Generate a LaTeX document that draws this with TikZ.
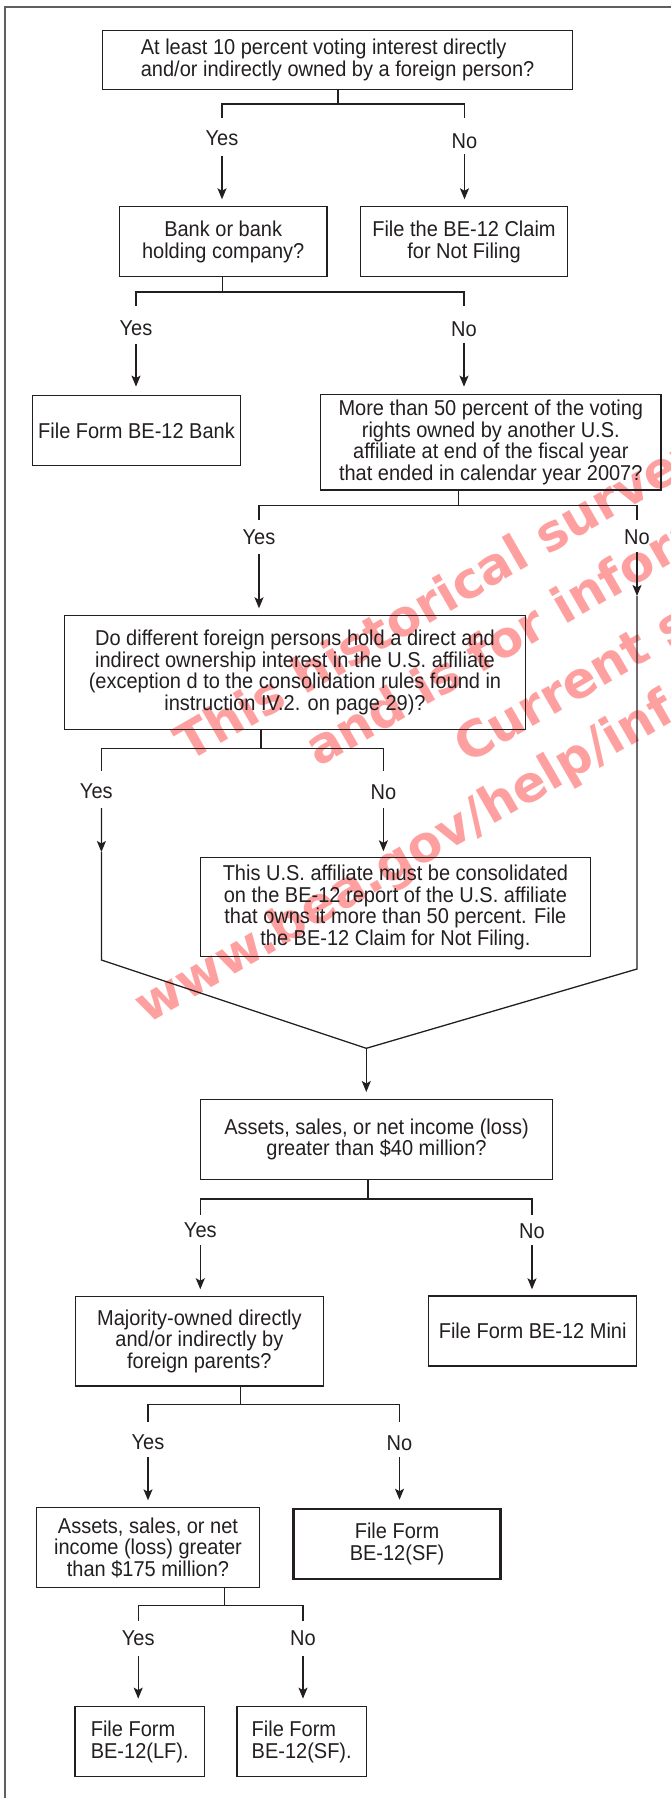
\documentclass[tikz,border=0pt]{standalone}
\usepackage{fontspec}
\setmainfont{Liberation Sans}[FakeStretch=0.93]
\newfontfamily\wmfont{DejaVu Sans}
\usetikzlibrary{arrows.meta,calc}
\definecolor{ink}{RGB}{35,31,32}
\definecolor{wmred}{RGB}{255,160,160}
\definecolor{framegray}{RGB}{95,95,95}
\begin{document}
\begin{tikzpicture}[x=1pt,y=-1pt,
  box/.style={draw=ink, line width=1.4pt, inner sep=0pt, align=center, text=ink,
    font=\fontsize{21.5}{21.5}\selectfont},
  thickbox/.style={box, line width=2.6pt},
  lbl/.style 2 args={anchor=base, inner sep=0pt, text height=#1, text depth=#2, text=ink,
    font=\fontsize{21.5}{21.5}\selectfont},
  conn/.style={draw=ink, line width=1.3pt},
  arr/.style={conn, -{Stealth[length=11pt,width=9pt,inset=2.5pt]}, shorten >=6.7pt},
  arrfree/.style={conn, -{Stealth[length=11pt,width=9pt,inset=2.5pt]}},
  wmtext/.style={anchor=base west, rotate=30, inner sep=0pt, text=wmred,
    font=\wmfont\bfseries\fontsize{50}{50}\selectfont}]
\useasboundingbox (0,0) rectangle (671,1798);
% watermark
\begin{scope}
\clip (0,0) rectangle (671,1798);
\node[wmtext] (wm1) at (188,763) {This historical survey};
\node[wmtext] (wm2) at (318,768) {and is for information};
\node[wmtext] (wm3) at (467,765) {Current survey};
\node[wmtext] (wm4) at (147,1025) {www.bea.gov/help/information};
\end{scope}
% frame
\draw[framegray, line width=2pt] (4.8,1798) -- (4.8,6.7) -- (671,6.7);
% boxes
\node[box, align=left, minimum width=470, minimum height=58.6] (q1) at (337.6,60)
  {At least 10 percent voting interest directly\\and/or indirectly owned by a foreign person?};
\node[box, minimum width=207.6, minimum height=70] (bank) at (223.2,241.7)
  {Bank or bank\\holding company?};
\node[box, minimum width=207.5, minimum height=70] (claim) at (464,241.7)
  {File the BE-12 Claim\\for Not Filing};
\node[box, minimum width=208, minimum height=70] (bebank) at (136.5,430.7)
  {File Form BE-12 Bank};
\node[box, minimum width=340.5, minimum height=95.7] (q3) at (490.8,442.2)
  {More than 50 percent of the voting\\rights owned by another U.S.\\affiliate at end of the fiscal year\\that ended in calendar year 2007?};
\node[box, minimum width=461, minimum height=113.6] (q4) at (295,672.5)
  {Do different foreign persons hold a direct and\\indirect ownership interest in the U.S. affiliate\\(exception d to the consolidation rules found in\\instruction IV.2. on page 29)?};
\node[box, minimum width=390, minimum height=99] (consol) at (395.4,907.2)
  {This U.S. affiliate must be consolidated\\on the BE-12 report of the U.S. affiliate\\that owns it more than 50 percent. File\\the BE-12 Claim for Not Filing.};
\node[box, minimum width=352.5, minimum height=80] (q5) at (376.5,1139.3)
  {Assets, sales, or net income (loss)\\greater than \$40 million?};
\node[box, minimum width=248, minimum height=89.3] (q6) at (199.4,1341.3)
  {Majority-owned directly\\and/or indirectly by\\foreign parents?};
\node[box, minimum width=208, minimum height=70] (mini) at (532.7,1331)
  {File Form BE-12 Mini};
\node[box, minimum width=223.3, minimum height=80] (q7) at (148,1547.7)
  {Assets, sales, or net\\income (loss) greater\\than \$175 million?};
\node[thickbox, minimum width=207, minimum height=70] (sf1) at (397,1544)
  {File Form\\BE-12(SF)};
\node[box, align=left, minimum width=129.6, minimum height=70] (lf) at (139.7,1741.7)
  {File Form\\BE-12(LF).};
\node[box, align=left, minimum width=129.3, minimum height=70] (sf2) at (301.7,1741.7)
  {File Form\\BE-12(SF).};
% labels
\node[lbl={27.7pt}{10.3pt}] (y1) at (222,145.7) {Yes};
\node[lbl={30.7pt}{5.3pt}] (n1) at (464.5,148.7) {No};
\node[lbl={29.5pt}{7.8pt}] (y2) at (136,335.5) {Yes};
\node[lbl={30pt}{7pt}] (n2) at (464,336) {No};
\node[lbl={24.4pt}{9.6pt}] (y3) at (259,544.4) {Yes};
\node[lbl={24.7pt}{7pt}] (n3) at (637,544.7) {No};
\node[lbl={28pt}{9.3pt}] (y4) at (96.3,798.7) {Yes};
\node[lbl={29pt}{8.3pt}] (n4) at (383.4,799.7) {No};
\node[lbl={22.2pt}{7.8pt}] (y5) at (200.3,1237.2) {Yes};
\node[lbl={23.7pt}{6.3pt}] (n5) at (532,1238.7) {No};
\node[lbl={27.7pt}{7.3pt}] (y6) at (148,1449.4) {Yes};
\node[lbl={28.7pt}{6.3pt}] (n6) at (399.5,1450.4) {No};
\node[lbl={24.8pt}{10.2pt}] (y7) at (138.2,1645.5) {Yes};
\node[lbl={25.2pt}{9.8pt}] (n7) at (303,1645.9) {No};
% junction points
\coordinate (j1) at (338,104);
\coordinate (j2) at (222.5,292);
\coordinate (j3) at (458.7,505.7);
\coordinate (j4) at (261,748.7);
\coordinate (j5) at (368,1199);
\coordinate (j6) at (240.5,1404.3);
\coordinate (j7) at (224.6,1605.3);
\coordinate (tipr) at (637,596);
\coordinate (bendr) at (637,969);
\coordinate (tipl) at (101.4,852);
\coordinate (bendl) at (101.4,960);
\coordinate (merge) at (366.3,1048.3);
% branch 1
\draw[conn] (j1 |- q1.south) -- (j1);
\draw[conn] (y1.north) |- (j1) -| (n1.north);
\draw[arr] (y1.south) -- (y1.south |- bank.north);
\draw[arr] (n1.south) -- (n1.south |- claim.north);
% branch 2
\draw[conn] (j2 |- bank.south) -- (j2);
\draw[conn] (y2.north) |- (j2) -| (n2.north);
\draw[arr, shorten >=8.4pt] (y2.south) -- (y2.south |- bebank.north);
\draw[arr, shorten >=7pt] (n2.south) -- (n2.south |- q3.north);
% branch 3
\draw[conn] (j3 |- q3.south) -- (j3);
\draw[conn] (y3.north) |- (j3) -| (n3.north);
\draw[arr] (y3.south) -- (y3.south |- q4.north);
\draw[arrfree] (n3.south) -- (tipr);
\draw[conn] (tipr) -- (bendr) -- (merge);
% branch 4
\draw[conn] (j4 |- q4.south) -- (j4);
\draw[conn] ([xshift=5.1pt]y4.north) |- (j4) -| (n4.north);
\draw[arrfree] ([xshift=5.1pt]y4.south) -- (tipl);
\draw[conn] (tipl) -- (bendl) -- (merge);
\draw[arr, shorten >=5.7pt] (n4.south) -- (n4.south |- consol.north);
% merge
\draw[arr, shorten >=6.6pt] (merge) -- (merge |- q5.north);
% branch 5
\draw[conn] (j5 |- q5.south) -- (j5);
\draw[conn] (y5.north) |- (j5) -| (n5.north);
\draw[arr] (y5.south) -- (y5.south |- q6.north);
\draw[arr, shorten >=6pt] (n5.south) -- (n5.south |- mini.north);
% branch 6
\draw[conn] (j6 |- q6.south) -- (j6);
\draw[conn] (y6.north) |- (j6) -| (n6.north);
\draw[arr] (y6.south) -- (y6.south |- q7.north);
\draw[arr, shorten >=8pt] (n6.south) -- (n6.south |- sf1.north);
% branch 7
\draw[conn] (j7 |- q7.south) -- (j7);
\draw[conn] (y7.north) |- (j7) -| (n7.north);
\draw[arr, shorten >=7.4pt] (y7.south) -- (y7.south |- lf.north);
\draw[arr, shorten >=7.4pt] (n7.south) -- (n7.south |- sf2.north);
\end{tikzpicture}
\end{document}
